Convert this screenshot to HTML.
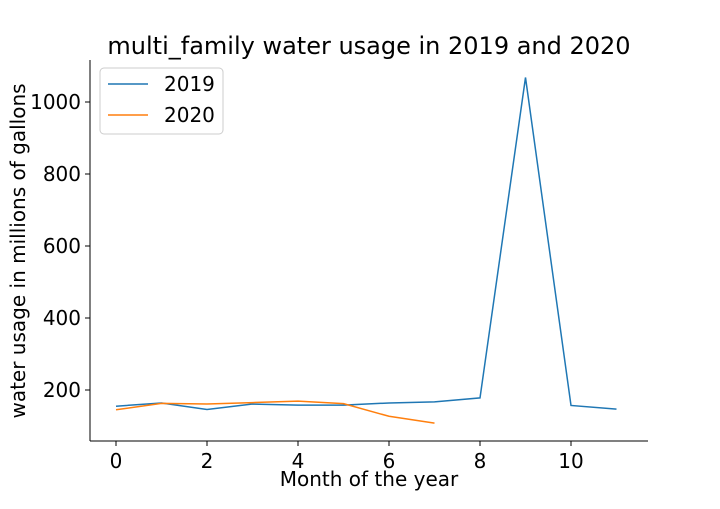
<!DOCTYPE html>
<html><head><meta charset="utf-8"><style>
body{margin:0;background:#fff;}
svg text{font-family:"DejaVu Sans",sans-serif;fill:#000;}
</style></head><body>
<svg id="chart" width="720" height="504" xmlns="http://www.w3.org/2000/svg">
<text x="369" y="54" font-size="24" text-anchor="middle">multi_family water usage in 2019 and 2020</text>
<g id="axes"></g>
<g id="lines"></g>
<text x="369" y="486" font-size="20" text-anchor="middle">Month of the year</text>
<text transform="translate(25,251) rotate(-90)" font-size="20" text-anchor="middle">water usage in millions of gallons</text>
<g>
<rect x="100" y="68" width="123" height="66" rx="4" fill="#fff" stroke="#ccc"/>
<line x1="108" y1="84" x2="148" y2="84" stroke="#1f77b4" stroke-width="1.5"/>
<text x="164" y="91" font-size="20">2019</text>
<line x1="108" y1="115" x2="148" y2="115" stroke="#ff7f0e" stroke-width="1.5"/>
<text x="164" y="122" font-size="20">2020</text>
</g>
</svg>
<script>
const months2019 = [0,1,2,3,4,5,6,7,8,9,10,11];
const usage2019 = [155,164,146,161,158,158,164,167,178,1068,157,147];
const months2020 = [0,1,2,3,4,5,6,7];
const usage2020 = [145,163,161,165,169,162,127,108];
const xTicks = [0,2,4,6,8,10];
const yTicks = [200,400,600,800,1000];
const NS="http://www.w3.org/2000/svg";
const xs = v => 116 + v*45.5;
const ys = v => 390 - (v-200)*0.36;
function mk(tag, attrs, parent){const e=document.createElementNS(NS,tag);for(const k in attrs)e.setAttribute(k,attrs[k]);parent.appendChild(e);return e;}
const axes=document.getElementById('axes');
const l1=mk('line',{x1:90,y1:441,x2:648,y2:441,stroke:'#000','stroke-width':1},axes);


const l2=mk('line',{x1:90,y1:441,x2:90,y2:60,stroke:'#000','stroke-width':1},axes);


xTicks.forEach(t=>{
  mk('line',{x1:xs(t),y1:441,x2:xs(t),y2:446,stroke:'#000'},axes);
  const tx=mk('text',{x:xs(t),y:468,'font-size':20,'text-anchor':'middle'},axes);
  tx.textContent=t;
  
  
});
yTicks.forEach(t=>{
  mk('line',{x1:85,y1:ys(t),x2:90,y2:ys(t),stroke:'#000'},axes);
  const tx=mk('text',{x:81,y:ys(t)+7,'font-size':20,'text-anchor':'end'},axes);
  tx.textContent=t;
  
  
});
const lines=document.getElementById('lines');
const p1=mk('polyline',{points:months2019.map((m,i)=>xs(m)+','+ys(usage2019[i])).join(' '),fill:'none',stroke:'#1f77b4','stroke-width':1.5},lines);


const p2=mk('polyline',{points:months2020.map((m,i)=>xs(m)+','+ys(usage2020[i])).join(' '),fill:'none',stroke:'#ff7f0e','stroke-width':1.5},lines);


</script>
</body></html>
